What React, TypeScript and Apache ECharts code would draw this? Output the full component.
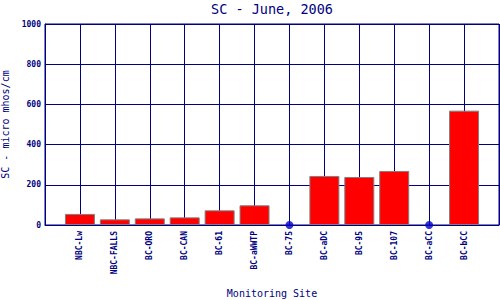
import React, { useEffect, useRef } from "react";
import * as echarts from "echarts";

const categories = ["NBC-Lw", "NBC-FALLS", "BC-ORO", "BC-CAN", "BC-61", "BC-aWWTP", "BC-75", "BC-aDC", "BC-95", "BC-107", "BC-aCC", "BC-bCC"];
const scValues = [55, 28, 33, 38, 73, 98, 0, 244, 239, 269, 0, 569];
const yTicks = [0, 200, 400, 600, 800, 1000];

const NAVY = "#000080";
const FONT = "'DejaVu Sans Mono', 'Liberation Mono', monospace";

export default function App() {
  const ref = useRef<HTMLDivElement>(null);
  useEffect(() => {
    if (!ref.current) return;
    const chart = echarts.init(ref.current, null, { renderer: "svg" });
    const axisData = ["", ...categories, ""];
    const barData = [null, ...scValues.map((v) => (v === 0 ? "-" : v)), null];
    const dotData = [null, ...scValues.map((v) => (v === 0 ? 0 : "-")), null];
    chart.setOption({
      animation: false,
      backgroundColor: "#ffffff",
      title: {
        text: "SC - June, 2006",
        left: 206,
        top: -3,
        textStyle: { color: NAVY, fontFamily: FONT, fontSize: 13.5, fontWeight: "normal" },
      },
      grid: {
        left: 45, right: 1, top: 24, bottom: 75,
        containLabel: false, outerBoundsMode: "none",
        show: true, borderColor: NAVY, borderWidth: 1,
      },
      xAxis: {
        type: "category",
        data: axisData,
        boundaryGap: false,
        name: "Monitoring Site",
        nameLocation: "middle",
        nameGap: 63,
        nameTextStyle: { color: NAVY, fontFamily: FONT, fontSize: 10 },
        axisLine: { lineStyle: { color: NAVY, width: 1 } },
        axisTick: { show: false },
        axisLabel: { rotate: 90, interval: 0, color: NAVY, fontFamily: FONT, fontSize: 8, fontWeight: "bold", margin: 6 },
        splitLine: { show: true, interval: 0, lineStyle: { color: NAVY, width: 1 } },
      },
      yAxis: {
        type: "value",
        min: yTicks[0],
        max: yTicks[yTicks.length - 1],
        interval: 200,
        name: "SC - micro mhos/cm",
        nameLocation: "middle",
        nameGap: 29,
        nameTextStyle: { color: NAVY, fontFamily: FONT, fontSize: 10 },
        axisLine: { show: true, lineStyle: { color: NAVY, width: 1 } },
        axisTick: { show: false },
        axisLabel: { color: NAVY, fontFamily: FONT, fontSize: 8, fontWeight: "bold", margin: 4, formatter: (v: number) => String(v) },
        splitLine: { show: true, lineStyle: { color: NAVY, width: 1 } },
      },
      series: [
        {
          type: "bar",
          data: barData,
          barWidth: 30,
          itemStyle: { color: "#ff0000", borderColor: "#808080", borderWidth: 1 },
          z: 3,
        },
        {
          type: "scatter",
          data: dotData,
          symbol: "circle",
          symbolSize: 8,
          itemStyle: { color: "#0000cc" },
          z: 4,
        },
      ],
    });
    return () => chart.dispose();
  }, []);
  return <div ref={ref} style={{ width: 500, height: 300, position: "absolute", left: 0, top: 0 }} />;
}
